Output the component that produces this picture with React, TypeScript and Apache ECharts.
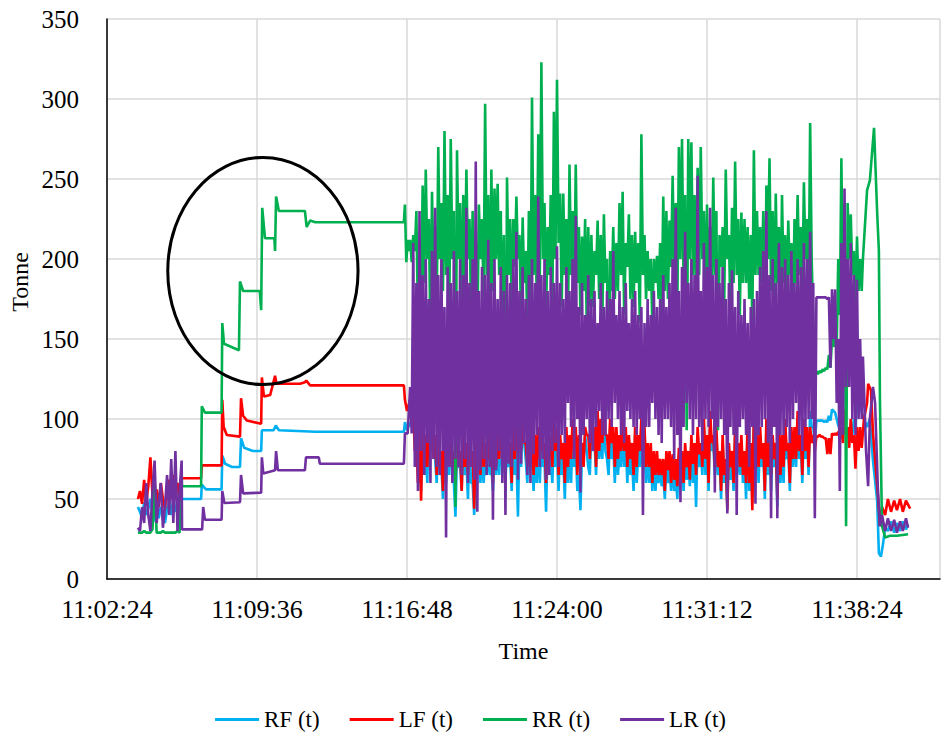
import React, { useEffect, useRef } from "react";
import * as echarts from "echarts";

// Time is in seconds after 11:02:24
const BASE_SECONDS = 11 * 3600 + 2 * 60 + 24;
const X_MAX = 2399;
const X_INTERVAL = 432;
const Y_TICKS = [0, 50, 100, 150, 200, 250, 300, 350];
const SERIES_NAMES = ["RF (t)", "LF (t)", "RR (t)", "LR (t)"];
const COLORS = ["#00B0F0", "#FF0000", "#00B050", "#7030A0"];

// Early noisy segment: sampled every 6 s from t = 89
const START_T = 89;
const START_STEP = 6;
const RF_START = [45, 42, 38, 48, 40, 44, 50, 41, 36, 46, 38, 45, 40, 35, 44, 48, 40, 50, 42, 47, 38, 50];
const LF_START = [50, 55, 47, 62, 48, 58, 76, 52, 47, 56, 45, 60, 50, 44, 57, 62, 50, 65, 55, 60, 48, 63];
const RR_START = [29, 29, 29, 30, 29, 29, 29, 31, 58, 29, 29, 29, 30, 29, 29, 29, 29, 29, 29, 30, 29, 65];
const LR_START = [32, 30, 45, 35, 60, 40, 30, 55, 74, 35, 48, 60, 32, 45, 65, 40, 75, 35, 80, 30, 55, 74];

// Step segment (static loading) [t, value]
const RF_STEPS = [[216, 50], [271, 50], [273, 59], [285, 56], [330, 56], [332, 77], [340, 72], [360, 70], [383, 70], [386, 88], [395, 82], [420, 80], [444, 80], [446, 93], [480, 93], [486, 96], [495, 93], [600, 92], [855, 92], [858, 98], [864, 93]];
const LF_STEPS = [[216, 63], [271, 63], [273, 71], [330, 71], [332, 112], [336, 95], [345, 90], [383, 89], [386, 113], [392, 102], [403, 99], [444, 97], [446, 126], [452, 114], [470, 115], [484, 127], [488, 122], [556, 122], [570, 123], [574, 124], [585, 121], [640, 121], [855, 121], [858, 112], [864, 105]];
const RR_STEPS = [[216, 58], [271, 58], [273, 108], [282, 104], [330, 104], [332, 160], [337, 147], [380, 143], [383, 186], [392, 180], [440, 180], [444, 168], [447, 232], [455, 213], [482, 213], [484, 205], [487, 239], [495, 230], [570, 230], [575, 220], [585, 224], [600, 223], [855, 223], [858, 234], [862, 198], [866, 212], [870, 205]];
const LR_STEPS = [[216, 31], [274, 31], [277, 45], [282, 37], [330, 37], [332, 55], [338, 47.5], [383, 48], [386, 65], [392, 53.5], [444, 54], [446, 76], [450, 66], [484, 68], [487, 80], [492, 68], [570, 68], [573, 76], [610, 76], [613, 72], [855, 72], [858, 91], [866, 91]];

// Main dynamic segment: for each 9 s window from t = 873, the highest reading
// (TOP) and the lowest reading (BOTTOM) of the band
const NOISE_T = 873;
const NOISE_STEP = 9;
const RF_TOP = [
  98, 100, 90, 75, 85, 80, 110, 126, 75, 90, 70, 85, 80, 90, 60, 80,
  70, 90, 75, 85, 60, 75, 75, 85, 75, 80, 70, 80, 80, 90, 75, 85,
  75, 95, 80, 90, 100, 75, 85, 80, 80, 85, 90, 75, 85, 80, 90, 80,
  85, 75, 90, 80, 95, 85, 65, 80, 90, 70, 95, 85, 100, 90, 108, 75,
  95, 85, 90, 80, 95, 85, 85, 75, 90, 80, 95, 85, 80, 75, 75, 70,
  70, 65, 75, 70, 72, 65, 78, 70, 80, 75, 85, 80, 90, 80, 95, 85,
  100, 85, 90, 75, 85, 70, 80, 75, 90, 80, 85, 75, 95, 80, 100, 85,
  90, 80, 95, 85, 85, 80, 90, 85, 95, 80, 90, 90, 100, 85, 95, 90,
  105, 95, 99, 99, 99, 99, 102, 106, 104, 96, 92, 92, 92, 92, 100, 110, 114,
];
const RF_BOTTOM = [
  95, 88, 70, 55, 65, 60, 95, 80, 60, 65, 50, 60, 65, 70, 39, 70,
  55, 65, 50, 60, 40, 70, 60, 60, 65, 65, 55, 65, 65, 70, 60, 70,
  55, 65, 39, 70, 85, 60, 70, 55, 60, 60, 70, 42, 65, 60, 70, 55,
  65, 50, 60, 60, 70, 55, 43, 75, 80, 65, 80, 65, 75, 75, 80, 65,
  75, 60, 65, 70, 70, 60, 65, 55, 60, 70, 70, 60, 60, 55, 55, 60,
  58, 50, 60, 55, 55, 50, 60, 55, 62, 58, 60, 45, 70, 65, 65, 55,
  80, 65, 65, 50, 60, 45, 62, 55, 65, 65, 60, 50, 55, 48, 70, 60,
  70, 50, 65, 55, 70, 45, 60, 60, 75, 55, 70, 70, 75, 60, 75, 65,
  95, 85, 99, 99, 98, 98, 99, 105, 100, 94, 91, 91, 91, 90, 95, 105, 105,
];
const LF_TOP = [
  112, 105, 85, 95, 95, 90, 100, 108, 90, 95, 80, 90, 85, 100, 80, 85,
  80, 95, 85, 90, 80, 85, 80, 95, 85, 90, 80, 90, 90, 100, 85, 95,
  85, 105, 95, 100, 110, 85, 95, 90, 90, 95, 100, 85, 95, 90, 100, 95,
  90, 85, 95, 90, 100, 95, 90, 85, 95, 90, 100, 95, 105, 100, 112, 90,
  100, 95, 95, 90, 100, 95, 90, 85, 95, 90, 100, 95, 85, 85, 80, 80,
  75, 75, 80, 80, 78, 75, 82, 80, 85, 80, 90, 85, 95, 85, 100, 90,
  105, 90, 95, 80, 90, 75, 85, 80, 95, 85, 90, 80, 100, 85, 105, 90,
  95, 85, 100, 90, 90, 85, 95, 90, 100, 85, 95, 95, 105, 90, 100, 95,
  95, 90, 89, 90, 89, 88, 88, 91, 91, 92, 95, 106, 95, 100, 90, 95, 95,
];
const LF_BOTTOM = [
  108, 80, 60, 49, 70, 70, 80, 75, 65, 70, 55, 75, 70, 70, 60, 75,
  55, 70, 65, 75, 44, 80, 65, 70, 70, 75, 60, 70, 75, 80, 65, 85,
  60, 75, 80, 80, 85, 70, 80, 65, 70, 75, 80, 60, 75, 70, 80, 65,
  75, 60, 70, 75, 80, 65, 75, 70, 90, 75, 85, 70, 80, 85, 90, 75,
  85, 70, 75, 80, 80, 70, 75, 65, 70, 80, 80, 70, 70, 60, 65, 65,
  65, 55, 68, 60, 62, 58, 68, 60, 70, 62, 72, 65, 78, 70, 75, 60,
  85, 70, 70, 55, 65, 43, 70, 60, 75, 70, 65, 60, 60, 43, 75, 70,
  75, 55, 70, 65, 75, 50, 65, 70, 80, 60, 75, 75, 80, 65, 80, 70,
  85, 80, 89, 89, 88, 78, 78, 90, 90, 88, 85, 90, 82, 85, 69, 80, 82,
];
const RR_TOP = [
  212, 215, 230, 205, 246, 256, 225, 242, 220, 270, 235, 280, 240, 275, 230, 268,
  235, 240, 256, 225, 230, 210, 234, 225, 297, 240, 256, 244, 247, 230, 215, 251,
  225, 225, 239, 215, 226, 205, 230, 301, 240, 278, 323, 235, 220, 240, 292, 312,
  241, 241, 225, 259, 230, 259, 220, 214, 225, 220, 215, 205, 224, 215, 228, 200,
  205, 220, 210, 235, 242, 210, 228, 215, 217, 210, 278, 215, 205, 200, 200, 202,
  210, 239, 230, 224, 252, 235, 270, 275, 240, 275, 273, 240, 257, 270, 230, 234,
  220, 251, 230, 215, 220, 256, 215, 232, 261, 225, 229, 225, 220, 215, 268, 230,
  220, 230, 246, 263, 230, 241, 220, 240, 215, 224, 210, 225, 240, 220, 248, 225,
  285, 160, 130, 130, 131, 132, 140, 150, 160, 200, 263, 235, 235, 228, 205, 214, 200,
];
const RR_BOTTOM = [
  198, 205, 160, 160, 185, 200, 150, 190, 170, 200, 180, 190, 160, 200, 45, 200,
  155, 185, 200, 165, 195, 150, 200, 175, 190, 160, 180, 200, 190, 150, 51, 190,
  170, 195, 200, 160, 185, 160, 150, 190, 175, 190, 200, 165, 190, 165, 200, 210,
  170, 190, 160, 190, 175, 185, 165, 180, 160, 170, 170, 190, 175, 160, 185, 105,
  180, 175, 180, 190, 165, 195, 175, 170, 185, 160, 190, 175, 180, 160, 185, 175,
  165, 180, 175, 195, 190, 170, 200, 185, 93, 200, 190, 180, 190, 200, 170, 185,
  180, 190, 93, 195, 170, 200, 165, 185, 190, 165, 185, 185, 175, 160, 190, 190,
  185, 150, 200, 180, 170, 185, 160, 185, 175, 190, 165, 185, 190, 175, 200, 170,
  200, 128, 128, 129, 130, 131, 132, 145, 145, 165, 170, 33, 200, 190, 170, 180, 180,
];
const LR_TOP = [
  120, 210, 185, 230, 190, 200, 175, 205, 232, 190, 200, 170, 195, 185, 205, 180,
  200, 190, 232, 185, 200, 261, 180, 195, 190, 212, 185, 200, 175, 195, 180, 190,
  185, 200, 217, 180, 195, 175, 190, 200, 185, 239, 190, 200, 180, 195, 185, 208,
  185, 175, 195, 180, 200, 227, 170, 185, 165, 190, 175, 180, 160, 185, 170, 180,
  175, 205, 165, 180, 170, 185, 160, 175, 180, 165, 170, 160, 175, 165, 180, 170,
  175, 190, 170, 185, 200, 232, 180, 195, 217, 185, 200, 190, 252, 180, 210, 195,
  232, 190, 200, 185, 195, 175, 185, 193, 170, 180, 165, 175, 160, 170, 175, 180,
  195, 205, 230, 190, 200, 185, 210, 195, 200, 190, 205, 185, 200, 195, 210, 200,
  217, 185, 176, 176, 176, 176, 176, 181, 181, 150, 210, 244, 200, 210, 190, 187, 150,
];
const LR_BOTTOM = [
  91, 70, 55, 80, 65, 85, 60, 75, 70, 65, 80, 26, 70, 60, 75, 70,
  65, 75, 60, 70, 62, 42, 68, 75, 65, 70, 37, 68, 80, 60, 40, 72,
  70, 80, 62, 72, 85, 65, 60, 78, 90, 70, 75, 62, 65, 80, 85, 70,
  90, 85, 110, 95, 75, 100, 54, 90, 100, 85, 80, 95, 105, 90, 90, 100,
  95, 110, 100, 90, 85, 105, 100, 95, 90, 100, 40, 95, 95, 110, 100, 90,
  85, 100, 100, 95, 75, 90, 48, 95, 110, 100, 90, 100, 95, 80, 100, 95,
  100, 54, 95, 100, 90, 41, 95, 90, 40, 95, 100, 90, 70, 95, 47, 90,
  95, 100, 85, 38, 95, 38, 90, 90, 95, 85, 100, 110, 90, 80, 95, 100,
  100, 38, 176, 176, 176, 175, 132, 150, 110, 55, 90, 120, 120, 100, 90, 100, 100,
];

// Final unloading segment [t, value]
const RF_TAIL = [[2180, 100], [2189, 95], [2197, 100], [2206, 74], [2218, 49], [2223, 16], [2229, 14], [2235, 22], [2241, 32], [2249, 30], [2258, 36], [2267, 29], [2275, 35], [2284, 30], [2292, 36], [2301, 31], [2307, 34]];
const LF_TAIL = [[2180, 100], [2189, 110], [2192, 122], [2200, 118], [2206, 91], [2220, 53], [2226, 33], [2232, 45], [2241, 40], [2249, 50], [2258, 42], [2267, 49], [2275, 43], [2284, 50], [2292, 42], [2301, 49], [2313, 44]];
const RR_TAIL = [[2177, 200], [2189, 243], [2197, 249], [2209, 282], [2218, 229], [2223, 205], [2226, 112], [2232, 33], [2241, 26], [2255, 27], [2275, 27], [2307, 28]];
const LR_TAIL = [[2177, 139], [2186, 80], [2192, 58], [2197, 100], [2206, 120], [2212, 110], [2220, 57], [2226, 33], [2232, 40], [2241, 30], [2249, 38], [2258, 30], [2267, 37], [2275, 29], [2284, 36], [2292, 30], [2301, 38], [2307, 32]];

// Annotation ellipse (data coords: center t, center value, half-width s, half-height t)
const ELLIPSE = { t: 449, v: 192.5, dt: 274, dv: 71 };

const sampled = (t0: number, step: number, vals: number[]) => vals.map((v, i) => [t0 + i * step, v]);
const band = (t0: number, step: number, tops: number[], bottoms: number[]) => {
  const out: number[][] = [];
  tops.forEach((v, i) => {
    out.push([t0 + i * step, v]);
    out.push([t0 + i * step + step / 2, bottoms[i]]);
  });
  return out;
};

const build = (start: number[], steps: number[][], tops: number[], bottoms: number[], tail: number[][]) => [
  ...sampled(START_T, START_STEP, start),
  ...steps,
  ...band(NOISE_T, NOISE_STEP, tops, bottoms),
  ...tail,
];

const DATA = [
  build(RF_START, RF_STEPS, RF_TOP, RF_BOTTOM, RF_TAIL),
  build(LF_START, LF_STEPS, LF_TOP, LF_BOTTOM, LF_TAIL),
  build(RR_START, RR_STEPS, RR_TOP, RR_BOTTOM, RR_TAIL),
  build(LR_START, LR_STEPS, LR_TOP, LR_BOTTOM, LR_TAIL),
];

const pad = (n: number) => (n < 10 ? "0" + n : "" + n);
const fmtTime = (v: number) => {
  const s = Math.round(BASE_SECONDS + v);
  const h = Math.floor(s / 3600);
  const m = Math.floor((s % 3600) / 60);
  const sec = s % 60;
  return `${h}:${pad(m)}:${pad(sec)}`;
};

const FONT = "'Times New Roman', 'Liberation Serif', serif";

export default function App() {
  const ref = useRef<HTMLDivElement>(null);
  useEffect(() => {
    document.body.style.margin = "0";
    if (!ref.current) return;
    const chart = echarts.init(ref.current, null, { renderer: "svg" });
    chart.setOption({
      animation: false,
      backgroundColor: "#fff",
      textStyle: { fontFamily: FONT },
      grid: { left: 107, right: 1, top: 19, bottom: 154, containLabel: false },
      legend: {
        data: SERIES_NAMES,
        top: 703,
        left: "center",
        icon: "rect",
        itemWidth: 44,
        itemHeight: 3,
        itemGap: 30,
        textStyle: { fontFamily: FONT, fontSize: 23, color: "#000" },
      },
      xAxis: {
        type: "value",
        min: 0,
        max: X_MAX,
        interval: X_INTERVAL,
        name: "Time",
        nameLocation: "middle",
        nameGap: 60,
        nameTextStyle: { fontFamily: FONT, fontSize: 24, color: "#000" },
        axisLine: { show: true, lineStyle: { color: "#000", width: 1.5 } },
        axisTick: { show: false },
        axisLabel: {
          formatter: fmtTime,
          showMaxLabel: false,
          fontFamily: FONT,
          fontSize: 26,
          color: "#000",
          margin: 17,
        },
        splitLine: { show: true, lineStyle: { color: "#D9D9D9", width: 1.5 } },
      },
      yAxis: {
        type: "value",
        min: Y_TICKS[0],
        max: Y_TICKS[Y_TICKS.length - 1],
        interval: 50,
        axisLine: { show: true, lineStyle: { color: "#000", width: 1.5 } },
        axisTick: { show: false },
        axisLabel: { fontFamily: FONT, fontSize: 25, color: "#000", margin: 28 },
        splitLine: { show: true, lineStyle: { color: "#D9D9D9", width: 1.5 } },
      },
      series: SERIES_NAMES.map((name, i) => ({
        name,
        type: "line",
        data: DATA[i],
        showSymbol: false,
        symbol: "none",
        color: COLORS[i],
        lineStyle: { color: COLORS[i], width: 2.6 },
      })),
    });
    const c = chart.convertToPixel({ gridIndex: 0 }, [ELLIPSE.t, ELLIPSE.v]) as number[];
    const e = chart.convertToPixel({ gridIndex: 0 }, [ELLIPSE.t + ELLIPSE.dt, ELLIPSE.v + ELLIPSE.dv]) as number[];
    chart.setOption({
      graphic: [
        {
          type: "ellipse",
          z: 100,
          shape: { cx: c[0], cy: c[1], rx: Math.abs(e[0] - c[0]), ry: Math.abs(c[1] - e[1]) },
          style: { fill: "none", stroke: "#000", lineWidth: 3 },
        },
        {
          type: "text",
          x: 20,
          y: 282,
          rotation: Math.PI / 2,
          style: {
            text: "Tonne",
            fontFamily: FONT,
            fontSize: 24,
            fill: "#000",
            align: "center",
            verticalAlign: "middle",
          },
        },
      ],
    });
    return () => chart.dispose();
  }, []);
  return <div ref={ref} style={{ width: 941, height: 733 }} />;
}
